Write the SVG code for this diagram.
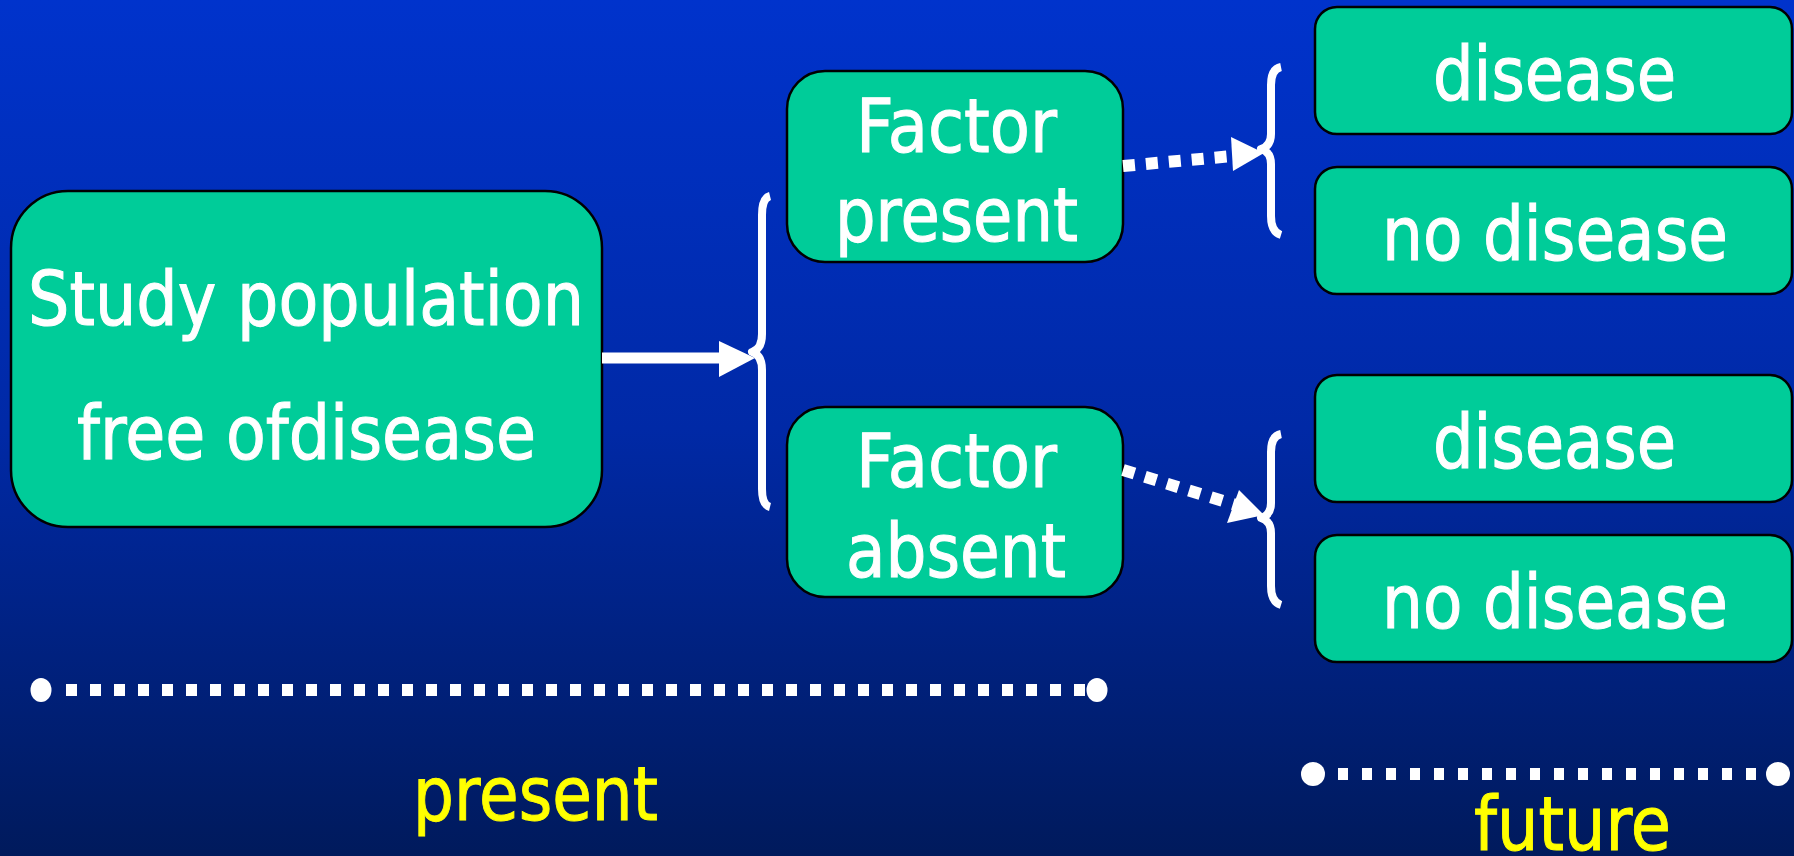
<svg xmlns="http://www.w3.org/2000/svg" width="1794" height="856" viewBox="0 0 1794 856">
<defs>
<linearGradient id="bg" x1="0" y1="0" x2="0" y2="1">
<stop offset="0" stop-color="#0033cc"/>
<stop offset="0.5" stop-color="#0029a6"/>
<stop offset="1" stop-color="#001a5c"/>
</linearGradient>
<style>
.box{fill:#00cc99;stroke:#000;stroke-width:2.5}
.t{fill:#fff;stroke:#fff;stroke-width:1.1;font-family:"DejaVu Sans","Liberation Sans",sans-serif;font-size:75px}
.y{fill:#ffff00;stroke:#ffff00;stroke-width:1;font-family:"DejaVu Sans","Liberation Sans",sans-serif;font-size:75px}
.brace{fill:none;stroke:#fff;stroke-width:8;stroke-linecap:butt;stroke-linejoin:round}
.dots{fill:none;stroke:#fff;stroke-width:12}
.head{fill:#fff}
</style>
</defs>
<rect width="1794" height="856" fill="url(#bg)"/>

<g id="study">
<rect class="box" x="11" y="191" width="591" height="336" rx="57"/>
<text class="t" x="28" y="325" textLength="556" lengthAdjust="spacingAndGlyphs">Study population</text>
<text class="t" x="77" y="459" textLength="459" lengthAdjust="spacingAndGlyphs">free ofdisease</text>
</g>

<g id="factor-present">
<rect class="box" x="787" y="71" width="336" height="191" rx="38"/>
<text class="t" x="856" y="152" textLength="201" lengthAdjust="spacingAndGlyphs">Factor</text>
<text class="t" x="835" y="241" textLength="243" lengthAdjust="spacingAndGlyphs">present</text>
</g>

<g id="factor-absent">
<rect class="box" x="787" y="407" width="336" height="190" rx="38"/>
<text class="t" x="856" y="487" textLength="201" lengthAdjust="spacingAndGlyphs">Factor</text>
<text class="t" x="846" y="577" textLength="220" lengthAdjust="spacingAndGlyphs">absent</text>
</g>

<g id="disease-1">
<rect class="box" x="1315" y="7" width="477" height="127" rx="22"/>
<text class="t" x="1433" y="100" textLength="243" lengthAdjust="spacingAndGlyphs">disease</text>
</g>
<g id="no-disease-1">
<rect class="box" x="1315" y="167" width="477" height="127" rx="22"/>
<text class="t" x="1382" y="260" textLength="346" lengthAdjust="spacingAndGlyphs">no disease</text>
</g>
<g id="disease-2">
<rect class="box" x="1315" y="375" width="477" height="127" rx="22"/>
<text class="t" x="1433" y="468" textLength="243" lengthAdjust="spacingAndGlyphs">disease</text>
</g>
<g id="no-disease-2">
<rect class="box" x="1315" y="535" width="477" height="127" rx="22"/>
<text class="t" x="1382" y="628" textLength="346" lengthAdjust="spacingAndGlyphs">no disease</text>
</g>

<g id="connectors">
<path class="brace" d="M770 196 Q762 198 762 215 L762 334 Q762 349 752 352 Q762 355 762 370 L762 489 Q762 505 770 507"/>
<path class="brace" d="M1281 67 Q1271 69 1271 85 L1271 134 Q1271 146 1261 149 Q1271 152 1271 164 L1271 216 Q1271 232 1281 235"/>
<path class="brace" d="M1281 434 Q1271 436 1271 452 L1271 503 Q1271 515 1261 518 Q1271 521 1271 533 L1271 586 Q1271 602 1281 605"/>

<line x1="602" y1="358" x2="722" y2="358" stroke="#fff" stroke-width="11"/>
<polygon class="head" points="719,341 755,358 719,377"/>

<line class="dots" x1="1123" y1="166" x2="1233" y2="156" stroke-dasharray="12 11"/>
<polygon class="head" points="1231,137 1264,153 1233,171"/>

<line class="dots" x1="1123" y1="470" x2="1236" y2="505" stroke-dasharray="12 11"/>
<polygon class="head" points="1239,490 1264,515 1227,523"/>
</g>

<g id="timeline-present">
<line class="dots" x1="66" y1="690" x2="1086" y2="690" stroke-dasharray="11 13"/>
<ellipse cx="41" cy="690" rx="10.5" ry="12" fill="#fff"/>
<ellipse cx="1097" cy="690" rx="10.5" ry="12" fill="#fff"/>
<text class="y" x="413" y="820" textLength="245" lengthAdjust="spacingAndGlyphs">present</text>
</g>

<g id="timeline-future">
<line class="dots" x1="1338" y1="774" x2="1758" y2="774" stroke-dasharray="10 14"/>
<circle cx="1313" cy="774" r="12" fill="#fff"/>
<circle cx="1778" cy="774" r="12" fill="#fff"/>
<text class="y" x="1474" y="850" textLength="197" lengthAdjust="spacingAndGlyphs">future</text>
</g>
</svg>
